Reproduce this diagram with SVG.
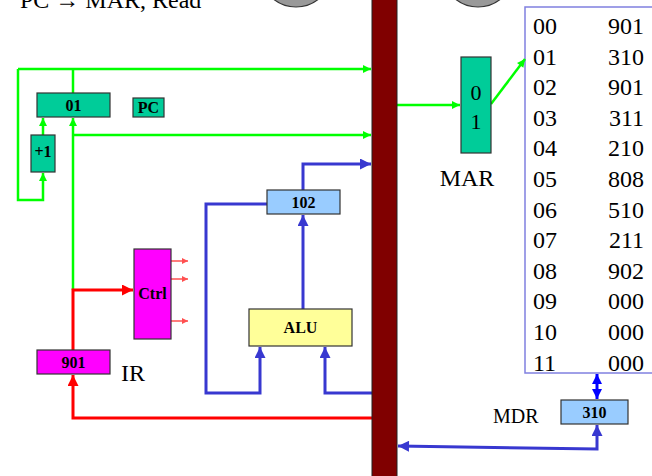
<svg xmlns="http://www.w3.org/2000/svg" width="652" height="476" viewBox="0 0 652 476">
<style>
.box{stroke:#333;stroke-width:1.2}
.lbl{font-family:"Liberation Serif",serif;font-weight:bold;font-size:16px;text-anchor:middle;fill:#000}
.txt{font-family:"Liberation Serif",serif;fill:#000}
.g{fill:none;stroke:#00ff00;stroke-width:2.5}
.r{fill:none;stroke:#ff0000;stroke-width:3}
.rs{fill:none;stroke:#ff5050;stroke-width:1.5}
.b{fill:none;stroke:#3838d0;stroke-width:3}
.bb{fill:none;stroke:#0000ff;stroke-width:3}
</style>
<defs>
<marker id="ag" viewBox="0 0 10 10" refX="10" refY="5" markerWidth="9" markerHeight="8" markerUnits="userSpaceOnUse" orient="auto"><path d="M0,0 L10,5 L0,10 z" fill="#00ff00"/></marker>
<marker id="ar" viewBox="0 0 10 10" refX="10" refY="5" markerWidth="12" markerHeight="11" markerUnits="userSpaceOnUse" orient="auto"><path d="M0,0 L10,5 L0,10 z" fill="#ff0000"/></marker>
<marker id="ars" viewBox="0 0 10 10" refX="10" refY="5" markerWidth="7" markerHeight="6" markerUnits="userSpaceOnUse" orient="auto"><path d="M0,0 L10,5 L0,10 z" fill="#ff5050"/></marker>
<marker id="ab" viewBox="0 0 10 10" refX="10" refY="5" markerWidth="12" markerHeight="11" markerUnits="userSpaceOnUse" orient="auto-start-reverse"><path d="M0,0 L10,5 L0,10 z" fill="#3838d0"/></marker>
<marker id="abb" viewBox="0 0 10 10" refX="10" refY="5" markerWidth="10" markerHeight="10" markerUnits="userSpaceOnUse" orient="auto-start-reverse"><path d="M0,0 L10,5 L0,10 z" fill="#0000ff"/></marker>
</defs>

<text class="txt" x="20" y="8" font-size="24">PC  → MAR, Read</text>
<circle cx="296" cy="-29" r="36" fill="#999" stroke="#333" stroke-width="1.2"/>
<circle cx="478" cy="-29" r="36" fill="#999" stroke="#333" stroke-width="1.2"/>

<g id="memory">
<rect x="525" y="7" width="140" height="366" fill="#fff" stroke="#8080e0" stroke-width="1.5"/>
<g class="txt" font-size="24">
<text x="533" y="34">00</text><text x="644" y="34" text-anchor="end">901</text>
<text x="533" y="64.6">01</text><text x="644" y="64.6" text-anchor="end">310</text>
<text x="533" y="95.2">02</text><text x="644" y="95.2" text-anchor="end">901</text>
<text x="533" y="125.8">03</text><text x="644" y="125.8" text-anchor="end">311</text>
<text x="533" y="156.4">04</text><text x="644" y="156.4" text-anchor="end">210</text>
<text x="533" y="187">05</text><text x="644" y="187" text-anchor="end">808</text>
<text x="533" y="217.6">06</text><text x="644" y="217.6" text-anchor="end">510</text>
<text x="533" y="248.2">07</text><text x="644" y="248.2" text-anchor="end">211</text>
<text x="533" y="278.8">08</text><text x="644" y="278.8" text-anchor="end">902</text>
<text x="533" y="309.4">09</text><text x="644" y="309.4" text-anchor="end">000</text>
<text x="533" y="340">10</text><text x="644" y="340" text-anchor="end">000</text>
<text x="533" y="370.6">11</text><text x="644" y="370.6" text-anchor="end">000</text>
</g>
</g>

<g id="connectors">
<path class="g" d="M18,69 L371,69" marker-end="url(#ag)"/>
<path class="g" d="M18,69 L18,200 L43,200 L43,173" marker-end="url(#ag)"/>
<path class="g" d="M73,93 L73,69"/>
<path class="g" d="M43,135 L43,118" marker-end="url(#ag)"/>
<path class="g" d="M73,290 L73,118" marker-end="url(#ag)"/>
<path class="g" d="M73,135 L371,135" marker-end="url(#ag)"/>
<path class="g" d="M397,105 L460,105" marker-end="url(#ag)"/>
<path class="g" d="M491,104 L525,59" marker-end="url(#ag)"/>
<path class="r" d="M73,350 L73,290 L133,290" marker-end="url(#ar)"/>
<path class="r" d="M372,418 L73,418 L73,375" marker-end="url(#ar)"/>
<path class="rs" d="M171,261 L188,261" marker-end="url(#ars)"/>
<path class="rs" d="M171,279 L188,279" marker-end="url(#ars)"/>
<path class="rs" d="M171,321 L188,321" marker-end="url(#ars)"/>
<path class="b" d="M303,309 L303,215" marker-end="url(#ab)"/>
<path class="b" d="M303,190 L303,164 L371,164" marker-end="url(#ab)"/>
<path class="b" d="M267,204 L206,204 L206,393 L260,393 L260,347" marker-end="url(#ab)"/>
<path class="b" d="M372,393 L325,393 L325,347" marker-end="url(#ab)"/>
<path class="bb" d="M597,374 L597,399" marker-start="url(#abb)" marker-end="url(#abb)"/>
<path class="b" d="M398,446 L597,449 L597,425" marker-start="url(#ab)" marker-end="url(#ab)"/>
</g>

<g id="bus"><rect x="372" y="-2" width="25" height="480" fill="#800000" stroke="#222" stroke-width="1"/></g>

<g id="pc">
<rect class="box" x="37" y="93" width="73" height="24" fill="#00cc99"/>
<text class="lbl" x="73.5" y="111">01</text>
</g>
<g id="pc-label">
<rect class="box" x="133" y="98" width="31" height="19" fill="#00cc99"/>
<text class="lbl" x="148.5" y="113">PC</text>
</g>
<g id="inc">
<rect class="box" x="31" y="135" width="24" height="37" fill="#00cc99"/>
<text class="lbl" x="43" y="157" font-size="10">+1</text>
</g>
<g id="ctrl">
<rect class="box" x="134" y="249" width="37" height="90" fill="#ff00ff"/>
<text class="lbl" x="152.5" y="299">Ctrl</text>
</g>
<g id="ir">
<rect class="box" x="37" y="350" width="73" height="24" fill="#ff00ff"/>
<text class="lbl" x="73.5" y="368">901</text>
<text class="txt" x="121" y="381" font-size="24">IR</text>
</g>
<g id="alu">
<rect class="box" x="249" y="309" width="103" height="37" fill="#ffff99"/>
<text class="lbl" x="300.5" y="333">ALU</text>
</g>
<g id="reg102">
<rect class="box" x="267" y="190" width="73" height="24" fill="#99ccff"/>
<text class="lbl" x="303.5" y="208">102</text>
</g>
<g id="mar">
<rect class="box" x="461" y="57" width="30" height="96" fill="#00cc99"/>
<text class="txt" x="476" y="100" font-size="22" text-anchor="middle">0</text>
<text class="txt" x="476" y="129" font-size="22" text-anchor="middle">1</text>
<text class="txt" x="467" y="186" font-size="24" text-anchor="middle">MAR</text>
</g>
<g id="mdr">
<rect class="box" x="561" y="400" width="67" height="24" fill="#99ccff"/>
<text class="lbl" x="594.5" y="418">310</text>
<text class="txt" x="493" y="423" font-size="20">MDR</text>
</g>
</svg>
